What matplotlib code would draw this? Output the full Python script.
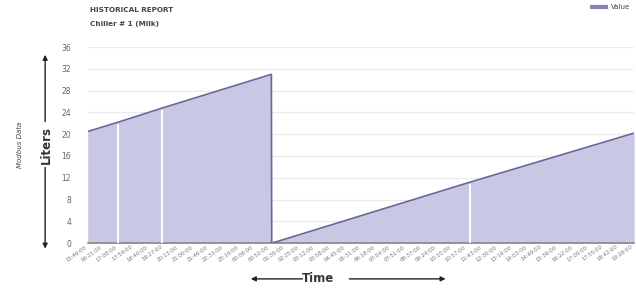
import numpy as np
import matplotlib.pyplot as plt
from matplotlib.lines import Line2D

# Tick labels (times), one per category position
time_labels = ["15:46:00", "16:21:00", "17:08:00", "17:54:00", "18:40:00", "19:27:00",
               "20:13:00", "21:00:00", "21:46:00", "22:33:00", "23:19:00", "00:06:00",
               "00:52:00", "01:39:00", "02:25:00", "03:12:00", "03:58:00", "04:45:00",
               "05:31:00", "06:18:00", "07:04:00", "07:51:00", "08:37:00", "09:24:00",
               "10:10:00", "10:57:00", "11:43:00", "12:30:00", "13:16:00", "14:03:00",
               "14:49:00", "15:36:00", "16:22:00", "17:09:00", "17:55:00", "18:42:00",
               "19:28:00"]

# Readings: position along the category axis and litres
sample_pos = [0.0, 2.0, 4.9, 12.1, 12.12, 12.5, 25.2, 36.0]
sample_val = [20.5, 22.2, 24.8, 31.0, 0.0, 0.3, 11.2, 20.2]

# Positions where the fill shows white gaps
gap_pos = [2.0, 4.9, 25.2]

fig = plt.figure(figsize=(6.36, 2.89), dpi=100)
ax = fig.add_axes([0.138, 0.159, 0.859, 0.678])

fill_c = '#c8c8e5'
line_c = '#67679a'

ax.fill_between(sample_pos, sample_val, 0, color=fill_c, lw=0, zorder=2)
ax.plot(sample_pos, sample_val, color=line_c, lw=1.2, zorder=3)
gap_vals = np.interp(gap_pos, sample_pos, sample_val)
ax.vlines(gap_pos, 0, gap_vals - 0.3, color='white', lw=1.4, zorder=3)

ax.set_xlim(0, len(time_labels) - 1)
ax.set_ylim(0, 36)
ax.set_yticks(range(0, 37, 4))
ax.set_xticks(range(len(time_labels)))
ax.set_xticklabels(time_labels, rotation=35, ha='right', fontsize=3.9, color='#777777')
ax.tick_params(axis='y', labelsize=5.5, labelcolor='#666666', length=0, pad=12)
ax.tick_params(axis='x', length=0, pad=1)
ax.grid(axis='y', color='#ebebeb', lw=0.8, zorder=0)
for s in ['top', 'right', 'left']:
    ax.spines[s].set_visible(False)
ax.spines['bottom'].set_color('#888888')
ax.spines['bottom'].set_linewidth(1.2)

# Titles
fig.text(0.141, 0.96, 'HISTORICAL REPORT', fontsize=5.2, fontweight='bold', color='#444444')
fig.text(0.141, 0.91, 'Chiller # 1 (Milk)', fontsize=5.2, fontweight='bold', color='#444444')

# Legend
handle = Line2D([], [], color='#8585b5', lw=3)
ax.legend([handle], ['Value'], loc='upper right', bbox_to_anchor=(1.005, 1.25),
          frameon=False, fontsize=5, handlelength=2.0, labelcolor='#444444')

# Left axis labels with arrows
fig.text(0.032, 0.50, 'Modbus Data', rotation=90, fontsize=5, style='italic',
         color='#444444', ha='center', va='center')
fig.text(0.073, 0.50, 'Liters', rotation=90, fontsize=8.5, fontweight='bold',
         color='#333333', ha='center', va='center')
arrow = dict(arrowstyle='-|>', color='#222222', lw=1.0, mutation_scale=7)
fig.add_artist(plt.Annotation('', xy=(0.071, 0.82), xytext=(0.071, 0.57),
                              xycoords='figure fraction', arrowprops=arrow))
fig.add_artist(plt.Annotation('', xy=(0.071, 0.13), xytext=(0.071, 0.43),
                              xycoords='figure fraction', arrowprops=arrow))

# Bottom axis label with arrows
fig.text(0.50, 0.035, 'Time', fontsize=8.5, fontweight='bold', color='#333333',
         ha='center', va='center')
fig.add_artist(plt.Annotation('', xy=(0.39, 0.035), xytext=(0.48, 0.035),
                              xycoords='figure fraction', arrowprops=arrow))
fig.add_artist(plt.Annotation('', xy=(0.705, 0.035), xytext=(0.545, 0.035),
                              xycoords='figure fraction', arrowprops=arrow))

fig.savefig('out.png', dpi=100)
